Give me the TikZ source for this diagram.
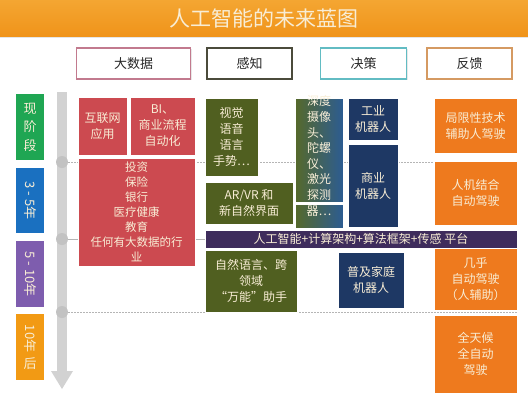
\documentclass[tikz,border=0pt]{standalone}
\usepackage{fontspec}
\setmainfont{Noto Sans CJK SC}
\usetikzlibrary{shadows}
\definecolor{ttl}{HTML}{F0941A}
\definecolor{ttltop}{HTML}{F4A632}
\definecolor{bred}{HTML}{CC4A50}
\definecolor{olive}{HTML}{505F20}
\definecolor{navy}{HTML}{1E3864}
\definecolor{fbor}{HTML}{EE7A1E}
\definecolor{plat}{HTML}{3E2C5C}
\definecolor{pale}{HTML}{F8EDD5}
\definecolor{sgreen}{HTML}{1FA653}
\definecolor{sblue}{HTML}{1A70C0}
\definecolor{spurple}{HTML}{7E5DAE}
\definecolor{sorange}{HTML}{F29A14}
\definecolor{hpink}{HTML}{C27A8E}
\definecolor{hdark}{HTML}{4B4B3B}
\definecolor{hteal}{HTML}{62BCC3}
\definecolor{hbrown}{HTML}{D59A62}
\definecolor{tline}{HTML}{D2D2D2}
\definecolor{tdot}{HTML}{C2C2C2}
\definecolor{dline}{HTML}{B5B5B5}
\definecolor{depthL}{HTML}{56692A}
\definecolor{depthR}{HTML}{2C5C92}
\begin{document}
\begin{tikzpicture}[x=1pt,y=-1pt,
  box/.style={rectangle, inner sep=0pt, align=center, draw=white, line width=0.8pt,
    text=pale, font=\fontsize{12}{16}\selectfont,
    drop shadow={shadow xshift=1.2pt, shadow yshift=-1.2pt, opacity=0.22}},
  redbox/.style={box, fill=bred},
  olivebox/.style={box, fill=olive},
  navybox/.style={box, fill=navy},
  fbbox/.style={box, fill=fbor},
  head/.style={rectangle, inner sep=0pt, fill=white, line width=1.4pt,
    minimum height=31pt, text=black!85, font=\fontsize{13}{15}\selectfont,
    drop shadow={shadow xshift=1pt, shadow yshift=-1pt, opacity=0.18}},
  stage/.style={rectangle, inner sep=0pt, align=center, minimum width=28pt,
    minimum height=66pt, text=pale, font=\fontsize{13}{18.5}\selectfont},
  dot/.style={circle, fill=tdot, inner sep=0pt, minimum size=12pt},
  guide/.style={draw=dline, line width=0.6pt, dash pattern=on 2pt off 1pt}
]
\useasboundingbox (0,0) rectangle (528,400);
\fill[white] (0,0) rectangle (528,400);

% title bar
\node[rectangle, inner sep=0pt, minimum width=528pt, minimum height=36pt,
  top color=ttltop, bottom color=ttl, text={pale},
  font=\fontsize{21}{24}\selectfont,
  drop shadow={shadow xshift=0pt, shadow yshift=-2pt, opacity=0.2}]
  (title) at (264,18) {人工智能的未来蓝图};

% headers
\node[head, draw=hpink, minimum width=114pt] (hbig) at (133.5,63.5) {大数据};
\node[head, draw=hdark, minimum width=85pt] (hper) at (249.5,63.5) {感知};
\node[head, draw=hteal, minimum width=86pt] (hdec) at (363.5,63.5) {决策};
\node[head, draw=hbrown, minimum width=85pt] (hfb) at (469.5,63.5) {反馈};

% timeline
\fill[tline] (57,92) rectangle (67,372);
\fill[tline] (51,371) -- (73,371) -- (62,389) -- cycle;
\node[dot] (c1) at (62,162) {};
\node[dot] (c2) at (62,239) {};
\node[dot] (c3) at (62,312) {};
\coordinate (e1) at (517,162);
\coordinate (e2) at (517,239);
\coordinate (e3) at (517,312);
\draw[guide] (c1.east) -- (e1);
\draw[draw=dline, line width=0.6pt] (c2.east) -- (e2);
\draw[guide] (c3.east) -- (e3);

% stages
\node[stage, fill=sgreen] (s1) at (30,127) {现\\阶\\段};
\node[stage, fill=sblue, minimum height=65pt] (s2) at (30,200.5) {\rotatebox{-90}{3 - 5年}};
\node[stage, fill=spurple] (s3) at (30,274) {\rotatebox{-90}{5 - 10年}};
\node[stage, fill=sorange] (s4) at (30,347) {\rotatebox{-90}{10年}\\[4pt]后};

% big data
\node[redbox, minimum width=49pt, minimum height=58pt] (net) at (102.5,126) {互联网\\应用};
\node[redbox, minimum width=65pt, minimum height=58pt] (bi) at (162.5,126) {BI、\\商业流程\\自动化};
\node[redbox, minimum width=117pt, minimum height=108pt, font=\fontsize{11.5}{15}\selectfont] (fin) at (136.5,212)
  {投资\\保险\\银行\\医疗健康\\教育\\任何有大数据的行\\业};

% perception
\node[olivebox, minimum width=53pt, minimum height=78pt] (vis) at (231.5,137) {视觉\\语音\\语言\\手势…};
\node[olivebox, minimum width=88pt, minimum height=42pt] (arvr) at (249,203) {AR/VR 和\\新自然界面};
\node[box, left color=depthL, right color=depthR, minimum width=48pt, minimum height=104pt] (depth) at (319,150) {};
\node[box, left color=depthL, right color=depthR, minimum width=48pt, minimum height=24pt] (depthb) at (319,216) {};
\node[inner sep=0pt, align=center, text=pale!90!white, font=\fontsize{12}{15.6}\selectfont] (depthtxt) at (319,156)
  {深度\\摄像\\头、\\陀螺\\仪、\\激光\\探测\\器…};
\node[olivebox, minimum width=92pt, minimum height=62pt] (nat) at (251,281) {自然语言、跨\\领域\\“万能”助手};

% decision
\node[navybox, minimum width=50pt, minimum height=42pt] (ind) at (373,119) {工业\\机器人};
\node[navybox, minimum width=50pt, minimum height=83pt] (com) at (373,185.5) {商业\\机器人};
\node[navybox, minimum width=66pt, minimum height=56pt] (home) at (371,280) {普及家庭\\机器人};

% feedback
\node[fbbox, minimum width=83pt, minimum height=55pt] (fb1) at (475.5,125.5) {局限性技术\\辅助人驾驶};
\node[fbbox, minimum width=83pt, minimum height=64pt] (fb2) at (475.5,193) {人机结合\\自动驾驶};
\node[fbbox, minimum width=83pt, minimum height=62pt] (fb3) at (475.5,279) {几乎\\自动驾驶\\（人辅助）};
\node[fbbox, minimum width=83pt, minimum height=78pt] (fb4) at (475.5,354) {全天候\\全自动\\驾驶};

% platform
\node[box, fill=plat, minimum width=312pt, minimum height=18pt] (plat) at (361,239)
  {人工智能+计算架构+算法框架+传感 平台};
\end{tikzpicture}
\end{document}
